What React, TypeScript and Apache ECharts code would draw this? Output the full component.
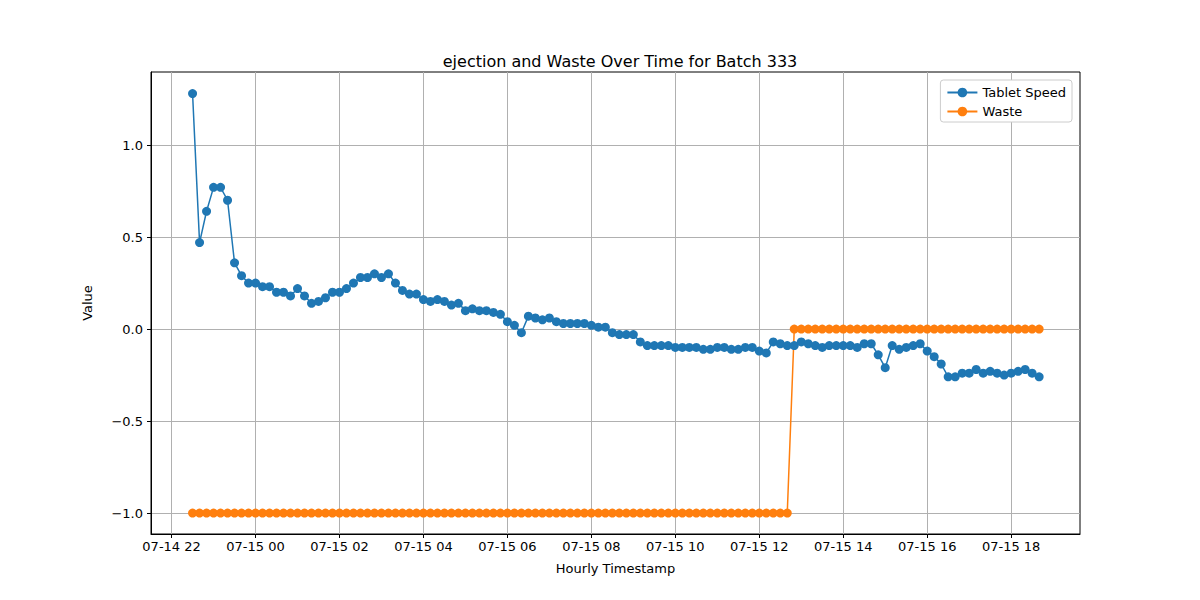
import { useEffect, useRef } from 'react';
import * as echarts from 'echarts';

// hours relative to 07-15 00:00, one point every 10 minutes starting 07-14 22:30
const startHour = -1.5;
const stepHour = 1 / 6;

const tabletSpeed = [
  1.28, 0.47, 0.64, 0.77, 0.77, 0.70, 0.36, 0.29, 0.25, 0.25,
  0.23, 0.23, 0.20, 0.20, 0.18, 0.22, 0.18, 0.14, 0.15, 0.17,
  0.20, 0.20, 0.22, 0.25, 0.28, 0.28, 0.30, 0.28, 0.30, 0.25,
  0.21, 0.19, 0.19, 0.16, 0.15, 0.16, 0.15, 0.13, 0.14, 0.10,
  0.11, 0.10, 0.10, 0.09, 0.08, 0.04, 0.02, -0.02, 0.07, 0.06,
  0.05, 0.06, 0.04, 0.03, 0.03, 0.03, 0.03, 0.02, 0.01, 0.01,
  -0.02, -0.03, -0.03, -0.03, -0.07, -0.09, -0.09, -0.09, -0.09, -0.10,
  -0.10, -0.10, -0.10, -0.11, -0.11, -0.10, -0.10, -0.11, -0.11, -0.10,
  -0.10, -0.12, -0.13, -0.07, -0.08, -0.09, -0.09, -0.07, -0.08, -0.09,
  -0.10, -0.09, -0.09, -0.09, -0.09, -0.10, -0.08, -0.08, -0.14, -0.21,
  -0.09, -0.11, -0.10, -0.09, -0.08, -0.12, -0.15, -0.19, -0.26, -0.26,
  -0.24, -0.24, -0.22, -0.24, -0.23, -0.24, -0.25, -0.24, -0.23, -0.22,
  -0.24, -0.26,
];

// waste is -1 for the first 86 readings, then 0
const wasteBeforeCount = 86;
const waste = tabletSpeed.map((_, i) => (i < wasteBeforeCount ? -1 : 0));

const xTicks = [-2, 0, 2, 4, 6, 8, 10, 12, 14, 16, 18];
const xTickLabels = ['07-14 22', '07-15 00', '07-15 02', '07-15 04', '07-15 06', '07-15 08', '07-15 10', '07-15 12', '07-15 14', '07-15 16', '07-15 18'];
const yTicks = [-1, -0.5, 0, 0.5, 1];

const App = () => {
  const chartRef = useRef<HTMLDivElement>(null);

  useEffect(() => {
    if (!chartRef.current) return;
    const chart = echarts.init(chartRef.current, undefined, { renderer: 'svg' });
    const hours = tabletSpeed.map((_, i) => startHour + i * stepHour);
    const font = 'DejaVu Sans';
    const fmtY = (v: number) => (v < 0 ? '\u2212' + Math.abs(v).toFixed(1) : v.toFixed(1));

    chart.setOption({
      animation: false,
      textStyle: { fontFamily: font },
      title: {
        text: 'ejection and Waste Over Time for Batch 333',
        left: 615, top: 48, textAlign: 'center',
        textStyle: { fontFamily: font, fontSize: 16, fontWeight: 'normal', color: '#000' },
      },
      legend: {
        top: 80, right: 128, orient: 'vertical', itemGap: 6,
        backgroundColor: '#fff', borderColor: '#ccc', borderWidth: 1, borderRadius: 3,
        padding: [6, 6, 4, 6], itemWidth: 30, itemHeight: 12,
        textStyle: { fontFamily: font, fontSize: 13, color: '#000' },
        data: [{ name: 'Tablet Speed' }, { name: 'Waste' }],
      },
      grid: { left: 151, right: 120, top: 72, bottom: 66, show: true, borderColor: '#000', borderWidth: 1 },
      xAxis: {
        type: 'value', min: -2.49, max: 19.64,
        name: 'Hourly Timestamp', nameLocation: 'middle', nameGap: 28,
        nameTextStyle: { fontFamily: font, fontSize: 13, color: '#000' },
        axisLine: { onZero: false, lineStyle: { color: '#000' } },
        axisTick: { customValues: xTicks, length: 4, lineStyle: { color: '#000' } },
        axisLabel: {
          customValues: xTicks, color: '#000', fontSize: 13, margin: 6,
          formatter: (v: number) => xTickLabels[xTicks.indexOf(Math.round(v))] ?? '',
        },
        splitLine: { show: true, lineStyle: { color: '#b0b0b0', width: 1 } },
      },
      yAxis: {
        type: 'value', min: -1.114, max: 1.397,
        name: 'Value', nameLocation: 'middle', nameGap: 57,
        nameTextStyle: { fontFamily: font, fontSize: 13, color: '#000' },
        axisLine: { show: true, onZero: false, lineStyle: { color: '#000' } },
        axisTick: { show: true, customValues: yTicks, length: 4, lineStyle: { color: '#000' } },
        axisLabel: { customValues: yTicks, color: '#000', fontSize: 13, margin: 8, formatter: fmtY },
        splitLine: { show: true, lineStyle: { color: '#b0b0b0', width: 1 } },
      },
      series: [
        {
          name: 'Tablet Speed', type: 'line',
          data: hours.map((h, i) => [h, tabletSpeed[i]]),
          symbol: 'circle', symbolSize: 9, color: '#1f77b4',
          lineStyle: { width: 1.5, color: '#1f77b4' }, itemStyle: { color: '#1f77b4' },
        },
        {
          name: 'Waste', type: 'line',
          data: hours.map((h, i) => [h, waste[i]]),
          symbol: 'circle', symbolSize: 9, color: '#ff7f0e',
          lineStyle: { width: 1.5, color: '#ff7f0e' }, itemStyle: { color: '#ff7f0e' },
        },
      ],
    });
    return () => chart.dispose();
  }, []);

  return <div ref={chartRef} style={{ width: 1200, height: 600, margin: -8 }} />;
};

export default App;
